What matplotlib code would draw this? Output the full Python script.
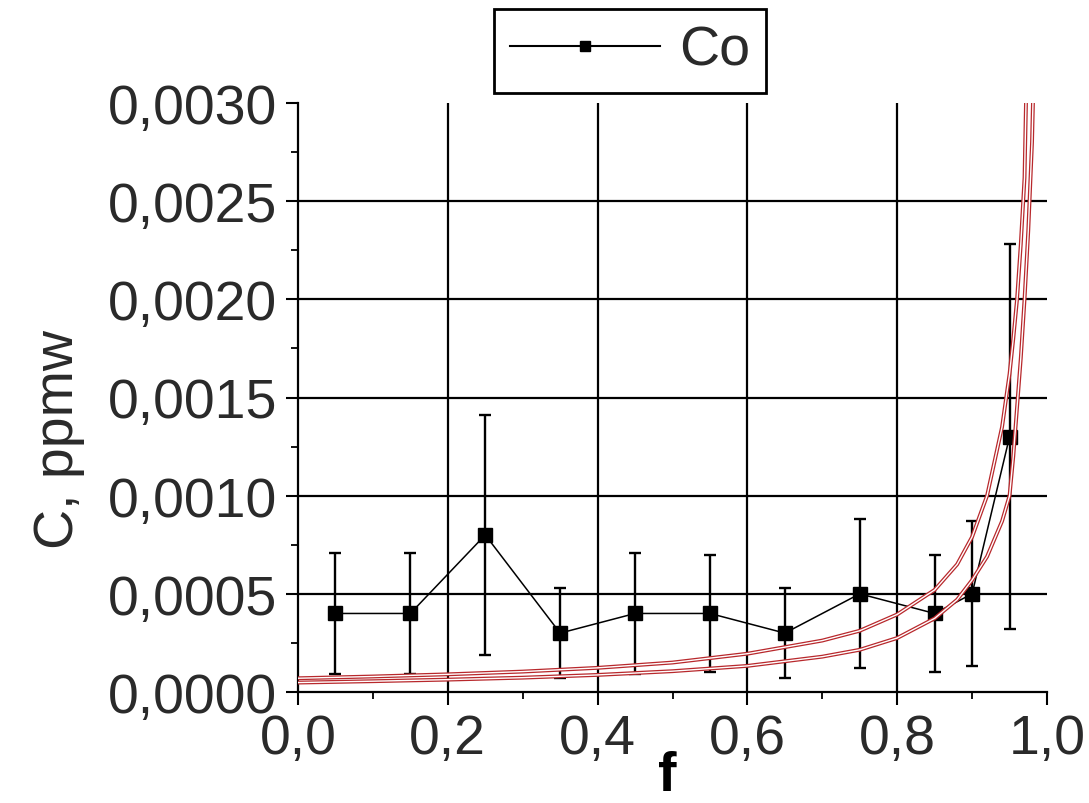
import matplotlib
matplotlib.use("Agg")
import matplotlib.pyplot as plt
from matplotlib.lines import Line2D

# ---- data ----
f_data = [0.05, 0.15, 0.25, 0.35, 0.45, 0.55, 0.65, 0.75, 0.85, 0.90, 0.95]
c_data = [0.00040, 0.00040, 0.00080, 0.00030, 0.00040, 0.00040, 0.00030,
          0.00050, 0.00040, 0.00050, 0.00130]
c_err = [0.00031, 0.00031, 0.00061, 0.00023, 0.00031, 0.00030, 0.00023,
         0.00038, 0.00030, 0.00037, 0.00098]

f_fit = [0.0, 0.1, 0.2, 0.3, 0.4, 0.5, 0.6, 0.7, 0.75, 0.8, 0.85, 0.88, 0.9,
         0.92, 0.94, 0.95, 0.955, 0.96, 0.965, 0.97, 0.975, 0.98, 0.985, 0.99]
c_fit_upper = [0.000070, 0.000079, 0.000090, 0.000104, 0.000123, 0.000150,
               0.000195, 0.000262, 0.000312, 0.000395, 0.000520, 0.000650,
               0.000790, 0.00100, 0.00135, 0.00162, 0.00180, 0.00200,
               0.00228, 0.00262, 0.00360, 0.00480, 0.00650, 0.00900]
c_fit_lower = [0.000048, 0.000055, 0.000063, 0.000073, 0.000087, 0.000106,
               0.000133, 0.000180, 0.000215, 0.000275, 0.000375, 0.000470,
               0.000570, 0.00069, 0.00087, 0.00100, 0.00120, 0.00145,
               0.00170, 0.00200, 0.00235, 0.00280, 0.00360, 0.00500]

x_ticks = [0.0, 0.2, 0.4, 0.6, 0.8, 1.0]
x_labels = ["0,0", "0,2", "0,4", "0,6", "0,8", "1,0"]
y_ticks = [0.0, 0.0005, 0.0010, 0.0015, 0.0020, 0.0025, 0.0030]
y_labels = ["0,0000", "0,0005", "0,0010", "0,0015", "0,0020", "0,0025", "0,0030"]
series_name = "Co"

# ---- style ----
plt.rcParams['font.family'] = ['Liberation Sans', 'DejaVu Sans']
RED = '#b8282c'
FS = 40
TXT = '#2a2a2a'

fig = plt.figure(figsize=(10.89, 8.04), dpi=100)
ax = fig.add_axes([298/1089, 1-693/804, 749/1089, 589/804])

ax.set_xlim(0, 1.0)
ax.set_ylim(0, 0.003)

# grid (black, no lines on the outer edges)
for xv in x_ticks[1:-1]:
    ax.axvline(xv, color='black', lw=1.6, zorder=1)
for yv in y_ticks[1:-1]:
    ax.axhline(yv, color='black', lw=1.6, zorder=1)

# data with error bars
ax.errorbar(f_data, c_data, yerr=c_err, fmt='none', ecolor='black',
            elinewidth=1.7, capsize=4.5, capthick=1.7, zorder=3)
ax.plot(f_data, c_data, color='black', lw=1.1, zorder=4)
ax.plot(f_data, c_data, linestyle='none', marker='s', markersize=9.5,
        color='black', zorder=5)

# model curves (hollow red lines)
for cy in (c_fit_upper, c_fit_lower):
    ax.plot(f_fit, cy, color=RED, lw=2.8, zorder=6, solid_capstyle='butt')
    ax.plot(f_fit, cy, color='white', lw=1.0, zorder=7, solid_capstyle='butt')

# axes styling
for s in ('top', 'right'):
    ax.spines[s].set_visible(False)
for s in ('left', 'bottom'):
    ax.spines[s].set_linewidth(1.6)

ax.set_xticks(x_ticks)
ax.set_xticklabels(x_labels)
ax.set_yticks(y_ticks)
ax.set_yticklabels(y_labels)
ax.set_xticks([0.1, 0.3, 0.5, 0.7, 0.9], minor=True)
ax.set_yticks([0.00025, 0.00075, 0.00125, 0.00175, 0.00225, 0.00275], minor=True)
ax.tick_params(which='major', direction='out', length=9, width=1.5,
               labelsize=FS, pad=6, colors='black')
ax.tick_params(which='minor', direction='out', length=5, width=1.3)
for lab in ax.get_xticklabels() + ax.get_yticklabels():
    lab.set_color(TXT)

fig.text(59/1089, 1-440/804, "C, ppmw", rotation=90, ha='center',
         va='center', fontsize=FS, color=TXT)
fig.text(667/1089, 1-777/804, "f", ha='center', va='center',
         fontsize=FS, fontweight='bold', color='black')

handle = Line2D([], [], color='black', lw=1.5, marker='s', markersize=7)
leg = fig.legend([handle], [series_name], loc='center',
                 bbox_to_anchor=(630/1089, 1-52/804), fontsize=FS,
                 frameon=True, fancybox=False, edgecolor='black',
                 framealpha=1.0,
                 handlelength=2.7, handletextpad=0.35, borderpad=0.28,
                 borderaxespad=0)
leg.get_frame().set_linewidth(2)
for t in leg.get_texts():
    t.set_color(TXT)

fig.savefig("out.png", dpi=100, facecolor='white')
